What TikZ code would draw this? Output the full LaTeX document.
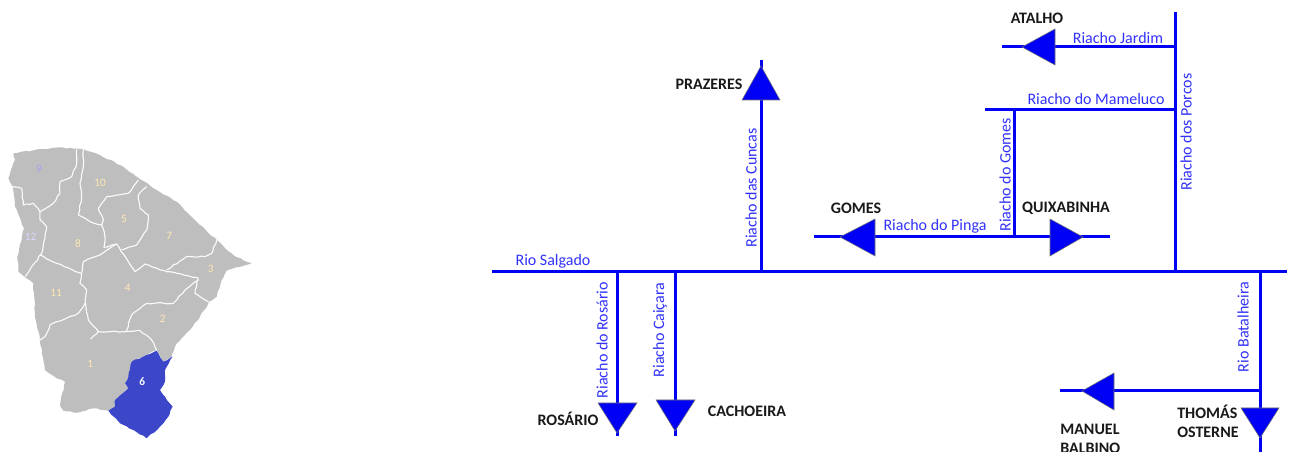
\documentclass[tikz,border=0pt]{standalone}
\usepackage{fontspec}
\usetikzlibrary{decorations.pathmorphing}
\setmainfont{Carlito}
\definecolor{riverblue}{RGB}{0,0,245}
\definecolor{labelblue}{RGB}{50,50,250}
\definecolor{stategray}{RGB}{190,190,190}
\definecolor{regionblue}{RGB}{60,70,200}
\definecolor{numcream}{RGB}{255,232,180}
\tikzset{
  river/.style={draw=riverblue,line width=2.25pt},
  tiptri/.style={fill=riverblue,draw=black!55,line width=0.4pt,line join=miter},
  rlabel/.style={text=labelblue,font=\fontsize{12}{14}\selectfont,inner sep=0pt},
  place/.style={text=black!90,font=\fontsize{12}{14.2}\selectfont\bfseries,inner sep=0pt,align=left},
  wobble/.style={decorate,decoration={random steps,segment length=3pt,amplitude=0.45pt}},
  border/.style={draw=white!96!gray,line width=0.85pt,line join=round,wobble},
  num/.style={text=numcream,font=\fontsize{8.5}{10}\selectfont,inner sep=0pt},
}
\begin{document}
\begin{tikzpicture}[x=0.75pt,y=-0.75pt]
\useasboundingbox[fill=white] (0,0) rectangle (1293,452);
% map
\begin{scope}[shift={(0pt,-105pt)},x=0.25pt,y=-0.25pt]
\fill[stategray,wobble] (40,40)--(105,30)--(175,22)--(250,28)--(300,45)--(360,75)--(410,110)--(470,150)--(530,185)--(590,245)--(650,300)--(700,345)--(740,365)--(755,370)--(680,392)--(665,420)--(650,470)--(625,490)--(600,530)--(570,570)--(530,610)--(515,650)--(490,665)--(470,630)--(440,645)--(395,665)--(385,710)--(375,730)--(385,745)--(345,780)--(345,800)--(325,812)--(280,805)--(235,818)--(190,812)--(180,795)--(195,725)--(170,715)--(135,690)--(120,600)--(105,530)--(100,430)--(55,395)--(52,350)--(72,265)--(45,200)--(38,140)--(25,115)--(45,60)--cycle;
\fill[regionblue,wobble] (470,632)--(490,665)--(518,650)--(495,690)--(495,725)--(480,750)--(495,770)--(518,800)--(505,830)--(480,860)--(440,895)--(400,870)--(360,850)--(325,812)--(345,800)--(345,780)--(385,745)--(375,730)--(385,710)--(395,665)--(440,645)--cycle;
\draw[border] (230,28)--(230,70)--(215,110)--(180,125)--(180,160)--(160,190)--(120,215)--(100,190)--(70,195)--(65,145)--(35,140);
\draw[border] (250,28)--(250,80)--(240,130)--(245,175)--(235,225)--(270,245)--(305,255);
\draw[border] (415,120)--(385,160)--(320,170)--(295,205)--(310,240)--(305,255)--(315,290)--(312,322)--(350,312);
\draw[border] (440,140)--(415,165)--(420,205)--(445,225)--(440,270)--(410,315)--(365,330);
\draw[border] (350,312)--(385,365)--(405,395)--(435,372)--(500,395)--(530,400)--(595,415);
\draw[border] (650,300)--(635,340)--(615,350)--(560,350)--(500,390);
\draw[border] (595,415)--(585,460)--(628,487);
\draw[border] (595,420)--(555,450)--(520,490)--(440,490)--(395,525)--(378,575);
\draw[border] (272,597)--(295,575)--(378,575)--(420,572)--(455,600)--(470,630);
\draw[border] (350,312)--(300,345)--(250,365)--(245,400)--(240,430)--(260,450)--(255,480)--(265,540)--(295,575);
\draw[border] (120,345)--(170,370)--(245,400);
\draw[border] (120,215)--(120,240)--(140,260)--(125,340)--(75,410);
\draw[border] (255,490)--(235,520)--(150,555)--(135,590)--(120,600);
\node[num,text=blue!35!white!90!gray] (n9) at (117,85) {9};
\node[num] (n10) at (300,128) {10};
\node[num] (n5) at (372,238) {5};
\node[num] (n7) at (508,287) {7};
\node[num] (n8) at (234,310) {8};
\node[num,text=blue!15!white] (n12) at (92,290) {12};
\node[num] (n3) at (632,387) {3};
\node[num] (n4) at (383,445) {4};
\node[num] (n11) at (168,460) {11};
\node[num] (n2) at (488,535) {2};
\node[num] (n1) at (271,672) {1};
\node[num,text=white,font=\fontsize{8.5}{10}\selectfont\bfseries] (n6) at (427,725) {6};
\end{scope}
% river junctions and free ends
\coordinate (sW) at (492,272);
\coordinate (sE) at (1287,272);
\coordinate (cunS) at (761,272);
\coordinate (cunN) at (761,60);
\coordinate (porS) at (1175,272);
\coordinate (porN) at (1175,12);
\coordinate (jarE) at (1175,47);
\coordinate (jarW) at (1002,47);
\coordinate (mamE) at (1175,110);
\coordinate (mamW) at (985,110);
\coordinate (gomN) at (1014,110);
\coordinate (gomS) at (1014,237);
\coordinate (pinW) at (814,237);
\coordinate (pinE) at (1110,237);
\coordinate (rosN) at (617,272);
\coordinate (rosS) at (617,436);
\coordinate (caiN) at (675,272);
\coordinate (caiS) at (675,436);
\coordinate (batN) at (1260,272);
\coordinate (batS) at (1260,452);
\coordinate (manE) at (1260,391);
\coordinate (manW) at (1060,391);
\draw[river] (sW)--(sE);
\draw[river] (cunS)--(cunN);
\draw[river] (porS)--(porN);
\draw[river] (jarE)--(jarW);
\draw[river] (mamE)--(mamW);
\draw[river] (gomN)--(gomS);
\draw[river] (pinW)--(pinE);
\draw[river] (rosN)--(rosS);
\draw[river] (caiN)--(caiS);
\draw[river] (batN)--(batS);
\draw[river] (manE)--(manW);
% arrowheads
\draw[tiptri] (761,66)--(742,100)--(780,100)--cycle;
\draw[tiptri] (1022,47)--(1055,29)--(1055,65)--cycle;
\draw[tiptri] (840,237)--(875,219)--(875,256)--cycle;
\draw[tiptri] (1083,237)--(1050,219)--(1050,256)--cycle;
\draw[tiptri] (617,433)--(598,403)--(637,403)--cycle;
\draw[tiptri] (675,431)--(656,400)--(695,400)--cycle;
\draw[tiptri] (1260,438)--(1241,408)--(1279,408)--cycle;
\draw[tiptri] (1082,391)--(1114,373)--(1114,410)--cycle;
% river labels
\node[rlabel] (lsal) at (553,261) {Rio Salgado};
\node[rlabel] (ljar) at (1118,38) {Riacho Jardim};
\node[rlabel] (lmam) at (1096,99) {Riacho do Mameluco};
\node[rlabel] (lpin) at (935,226) {Riacho do Pinga};
\node[rlabel,rotate=90] (lcun) at (751,188) {Riacho das Cuncas};
\node[rlabel,rotate=90] (lpor) at (1186,132) {Riacho dos Porcos};
\node[rlabel,rotate=90] (lgom) at (1005,175) {Riacho do Gomes};
\node[rlabel,rotate=90] (lros) at (602,340) {Riacho do Rosário};
\node[rlabel,rotate=90] (lcai) at (660,330) {Riacho Caiçara};
\node[rlabel,rotate=90] (lbat) at (1243,327) {Rio Batalheira};
% place labels
\node[place] (atalho) at (1037,18) {ATALHO};
\node[place] (prazeres) at (709,84) {PRAZERES};
\node[place] (gomes) at (856,208) {GOMES};
\node[place] (quixa) at (1066,208) {QUIXABINHA};
\node[place] (rosario) at (568,419) {ROSÁRIO};
\node[place] (cachoeira) at (747,411) {CACHOEIRA};
\node[place,anchor=north west] (thomas) at (1177,405) {THOMÁS\\OSTERNE};
\node[place,anchor=north west] (manuel) at (1060,424) {MANUEL\\BALBINO};
\end{tikzpicture}
\end{document}
